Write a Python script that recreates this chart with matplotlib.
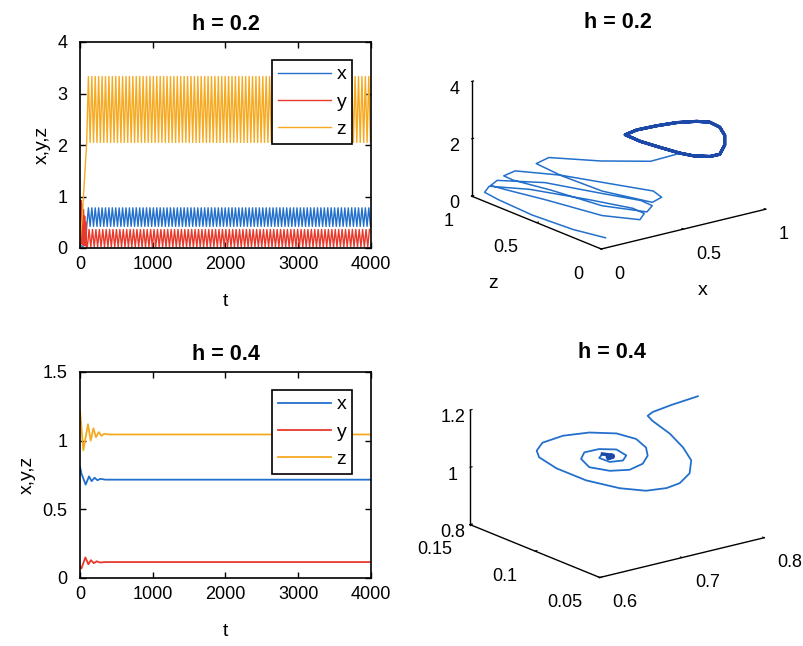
import numpy as np
import matplotlib.pyplot as plt
from mpl_toolkits.mplot3d import Axes3D  # noqa: F401

plt.rcParams['font.family'] = ['Liberation Sans', 'DejaVu Sans']
plt.rcParams['font.size'] = 13

BLUE = '#2370cc'
RED = '#e8392b'
ORANGE = '#f5aa22'
DARK_BLUE = '#1c48a8'

# ---- h = 0.2, time series -------------------------------------------------
# start-up transient
t02_x0 = [0, 40, 80, 92]
x02_x0 = [0.05, 0.03, 0.08, 0.42]
t02_y0 = [0, 8, 16, 24, 32, 40, 48, 56, 64, 72, 80, 90]
y02_y0 = [0.95, 0.10, 0.92, 0.08, 0.85, 0.06, 0.75, 0.05, 0.62, 0.04, 0.50, 0.02]
t02_z0 = [0, 30, 60, 92]
z02_z0 = [0.10, 0.60, 1.30, 2.05]

# one period of the limit cycle (low, high), repeated up to t = 4000
period02 = 47
t02_cycle_start = 92
x02_cycle = [0.42, 0.78]
y02_cycle = [0.02, 0.36]
z02_cycle = [2.05, 3.33]
phase_x = [0.0, 0.5]
phase_y = [0.2, 0.7]
phase_z = [0.0, 0.5]

# ---- h = 0.4, time series (damped to the equilibrium) ---------------------
t04_x = [0, 20, 78, 124, 160, 200, 240, 280, 350, 4000]
x04 = [0.81, 0.76, 0.68, 0.74, 0.705, 0.73, 0.712, 0.722, 0.716, 0.716]
t04_y = [0, 20, 74, 115, 150, 190, 230, 270, 350, 4000]
y04 = [0.083, 0.07, 0.15, 0.10, 0.13, 0.108, 0.122, 0.113, 0.116, 0.116]
t04_z = [0, 46, 110, 147, 184, 220, 258, 295, 330, 400, 4000]
z04 = [1.22, 0.93, 1.12, 1.00, 1.09, 1.025, 1.062, 1.035, 1.05, 1.045, 1.045]

# ---- h = 0.2, phase portrait: transient loops --------------------------------
x3_02 = [0.094, 0.048, 0.022, 0.029, 0.032, 0.093, 0.219, 0.343, 0.421, 0.416,
         0.336, 0.222, 0.147, 0.078, 0.051, 0.111, 0.272, 0.372, 0.444, 0.434,
         0.347, 0.220, 0.158, 0.080, 0.071, 0.148, 0.267, 0.376, 0.446, 0.420,
         0.323, 0.197, 0.145, 0.122, 0.200, 0.339, 0.500, 0.622]
y3_02 = [0.087, 0.279, 0.561, 0.833, 0.940, 0.982, 0.827, 0.518, 0.290, 0.196,
         0.128, 0.276, 0.611, 0.836, 0.918, 0.943, 0.780, 0.478, 0.258, 0.157,
         0.088, 0.273, 0.587, 0.783, 0.842, 0.851, 0.654, 0.365, 0.165, 0.067,
         0.016, 0.242, 0.489, 0.656, 0.658, 0.434, 0.253, 0.180]
z3_02 = [0.10, 0.10, 0.12, 0.15, 0.20, 0.25, 0.25, 0.28, 0.30, 0.30,
         0.32, 0.35, 0.38, 0.42, 0.45, 0.50, 0.50, 0.55, 0.60, 0.62,
         0.65, 0.70, 0.75, 0.85, 0.90, 0.95, 1.00, 1.05, 1.10, 1.10,
         1.15, 1.30, 1.45, 1.60, 1.70, 1.80, 1.90, 2.147]
# the closed orbit it settles on
xc_02 = [0.622, 0.564, 0.498, 0.461, 0.500, 0.574, 0.632, 0.690, 0.731,
         0.768, 0.790, 0.790, 0.768, 0.724, 0.663, 0.622]
yc_02 = [0.18, 0.26, 0.33, 0.40, 0.36, 0.30, 0.22, 0.14, 0.09,
         0.06, 0.05, 0.05, 0.06, 0.08, 0.13, 0.18]
zc_02 = [2.147, 2.280, 2.455, 2.609, 2.797, 2.950, 3.128, 3.238, 3.244,
         3.075, 2.781, 2.439, 2.128, 2.076, 2.092, 2.147]

# ---- h = 0.4, phase portrait: spiral into the equilibrium ------------------
x3_04 = [0.806, 0.774, 0.751, 0.745, 0.751, 0.772, 0.788, 0.798, 0.796, 0.784,
         0.768, 0.743, 0.711, 0.670, 0.634, 0.613, 0.610, 0.617, 0.642, 0.674,
         0.707, 0.731, 0.743, 0.745, 0.739, 0.723, 0.699, 0.674, 0.664, 0.668,
         0.686, 0.707, 0.719, 0.715, 0.699, 0.686, 0.690, 0.703, 0.699, 0.703,
         0.697, 0.696, 0.701, 0.699]
z3_04 = [1.188, 1.180, 1.171, 1.162, 1.140, 1.081, 1.022, 0.970, 0.926, 0.900,
         0.894, 0.902, 0.933, 0.989, 1.056, 1.109, 1.134, 1.157, 1.164, 1.153,
         1.127, 1.091, 1.053, 1.023, 0.999, 0.989, 1.002, 1.032, 1.068, 1.088,
         1.087, 1.071, 1.042, 1.027, 1.033, 1.056, 1.067, 1.053, 1.050, 1.047,
         1.046, 1.053, 1.055, 1.050]
y3_04 = [0.105] * len(x3_04)

t_ticks = [0, 1000, 2000, 3000, 4000]


def periodic(t0, period, phase, cycle, t_end=4000):
    n = int((t_end - t0) / period) + 1
    t = (t0 + period * (np.arange(n)[:, None] + np.array(phase)[None, :])).ravel()
    v = np.tile(cycle, n)
    keep = t <= t_end
    return t[keep], v[keep]


def series_axes(ax, ylim, yticks, yticklabels, title):
    ax.set_xlim(0, 4000)
    ax.set_ylim(*ylim)
    ax.set_xticks(t_ticks)
    ax.set_xticklabels([str(t) for t in t_ticks])
    ax.set_yticks(yticks)
    ax.set_yticklabels(yticklabels)
    ax.tick_params(direction='in', top=True, right=True, length=4, width=1)
    ax.tick_params(axis='x', pad=6)
    ax.tick_params(axis='y', pad=9)
    for s in ax.spines.values():
        s.set_linewidth(1.2)
    ax.set_xlabel('t', fontsize=14, labelpad=14)
    ax.set_ylabel('x,y,z', fontsize=14, labelpad=4.5)
    ax.set_title(title, fontsize=15.5, fontweight='bold', pad=9)
    leg = ax.legend(loc='upper right', bbox_to_anchor=(0.935, 0.913), fancybox=False,
                    edgecolor='black', framealpha=1, handlelength=2.7, handletextpad=0.3,
                    labelspacing=0.5, borderpad=0.3, borderaxespad=0, fontsize=14)
    leg.get_frame().set_linewidth(1.2)


def phase_axes(ax, lims, ticks, ticklabels):
    ax.set_proj_type('ortho')
    ax.view_init(elev=18.3, azim=-127.6)
    ax.set_box_aspect((208, 213, 121), zoom=1.153)
    ax.set_xlim(*lims[0])
    ax.set_ylim(*lims[1])
    ax.set_zlim(*lims[2])
    ax.set_xticks(ticks[0])
    ax.set_yticks(ticks[1])
    ax.set_zticks(ticks[2])
    ax.set_xticklabels(ticklabels[0], ha='left')
    ax.set_yticklabels(ticklabels[1], ha='right')
    ax.set_zticklabels(ticklabels[2])
    ax.grid(False)
    ax.set_facecolor('none')
    for axis in (ax.xaxis, ax.yaxis, ax.zaxis):
        axis.set_pane_color((1, 1, 1, 0))
        axis.pane.set_edgecolor((1, 1, 1, 0))
        axis.line.set_color('black')
        axis.line.set_linewidth(1.0)
        axis._axinfo['tick']['inward_factor'] = 0.0
        axis._axinfo['tick']['outward_factor'] = 0.15
    ax.tick_params(labelsize=13, pad=0)
    ax.tick_params(axis='x', pad=2)
    ax.tick_params(axis='y', pad=3)
    ax.tick_params(axis='z', pad=-2)


fig = plt.figure(figsize=(8.04, 6.46), dpi=100)
W, H = 804, 646

# upper left: h = 0.2
ax1 = fig.add_axes([80 / W, 1 - 248 / H, 291 / W, 206 / H])
tx, vx = periodic(t02_cycle_start, period02, phase_x, x02_cycle)
ty, vy = periodic(t02_cycle_start, period02, phase_y, y02_cycle)
tz, vz = periodic(t02_cycle_start, period02, phase_z, z02_cycle)
ax1.plot(np.r_[t02_x0, tx], np.r_[x02_x0, vx], color=BLUE, lw=1.0, label='x')
ax1.plot(np.r_[t02_y0, ty], np.r_[y02_y0, vy], color=RED, lw=1.0, label='y')
ax1.plot(np.r_[t02_z0, tz], np.r_[z02_z0, vz], color=ORANGE, lw=1.0, label='z')
series_axes(ax1, (0, 4), [0, 1, 2, 3, 4], ['0', '1', '2', '3', '4'], 'h = 0.2')

# lower left: h = 0.4
ax2 = fig.add_axes([80 / W, 1 - 578 / H, 291 / W, 206 / H])
ax2.plot(t04_x, x04, color=BLUE, lw=1.3, label='x')
ax2.plot(t04_y, y04, color=RED, lw=1.3, label='y')
ax2.plot(t04_z, z04, color=ORANGE, lw=1.3, label='z')
series_axes(ax2, (0, 1.5), [0, 0.5, 1, 1.5], ['0', '0.5', '1', '1.5'], 'h = 0.4')

# upper right: h = 0.2 phase portrait
ax3 = fig.add_axes([430 / W, 1 - 284 / H, 370 / W, 270 / H], projection='3d')
ax3.plot(x3_02, y3_02, z3_02, color=BLUE, lw=1.1)
ax3.plot(np.tile(xc_02, 3), np.tile(yc_02, 3), np.tile(zc_02, 3), color=DARK_BLUE, lw=2.2)
phase_axes(ax3, [(0, 1), (0, 1), (0, 4)],
           [[0, 0.5, 1], [0, 0.5, 1], [0, 2, 4]],
           [['0', '0.5', '1'], ['0', '0.5', '1'], ['0', '2', '4']])
fig.text(618 / W, 1 - 22 / H, 'h = 0.2', ha='center', va='center', fontsize=15.5, fontweight='bold')
fig.text(703 / W, 1 - 290 / H, 'x', ha='center', va='center', fontsize=14)
fig.text(493 / W, 1 - 284 / H, 'z', ha='center', va='center', fontsize=14)

# lower right: h = 0.4 phase portrait
ax4 = fig.add_axes([428.5 / W, 1 - 612.5 / H, 370 / W, 270 / H], projection='3d')
ax4.plot(x3_04, y3_04, z3_04, color=BLUE, lw=1.3)
ax4.plot(x3_04[-8:], y3_04[-8:], z3_04[-8:], color=DARK_BLUE, lw=2.5)
phase_axes(ax4, [(0.6, 0.8), (0.05, 0.15), (0.8, 1.2)],
           [[0.6, 0.7, 0.8], [0.05, 0.1, 0.15], [0.8, 1, 1.2]],
           [['0.6', '0.7', '0.8'], ['0.05', '0.1', '0.15'], ['0.8', '1', '1.2']])
fig.text(612 / W, 1 - 352 / H, 'h = 0.4', ha='center', va='center', fontsize=15.5, fontweight='bold')

fig.savefig('out.png', dpi=100)
